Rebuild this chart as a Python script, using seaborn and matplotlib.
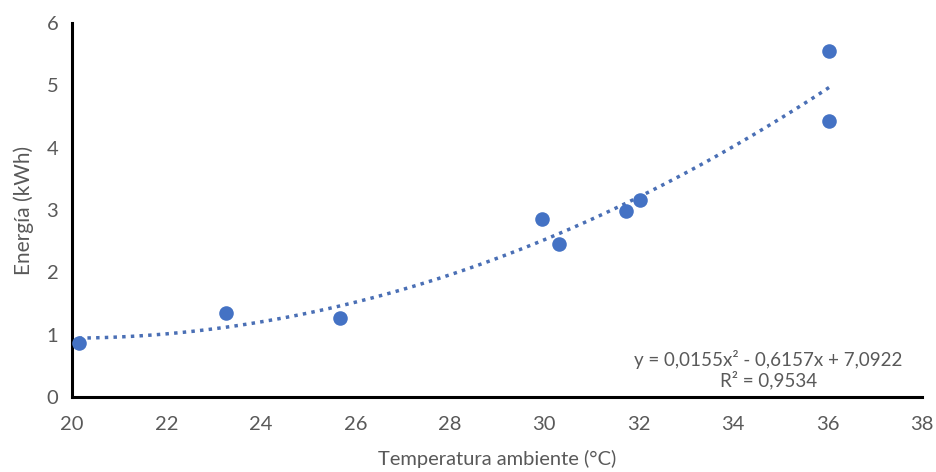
import numpy as np
import pandas as pd
import matplotlib
matplotlib.use("Agg")
import matplotlib.pyplot as plt
import seaborn as sns

####################################################################################
## data
####################################################################################
temperatura = [20.14, 23.26, 25.67, 29.96, 30.32, 31.72, 32.02, 36.04, 36.03]
energia = [0.87, 1.34, 1.26, 2.86, 2.46, 2.99, 3.16, 5.55, 4.43]

ecuacion = "y = 0,0155x² - 0,6157x + 7,0922"
r2_texto = "R² = 0,9534"

x_ticks = [20, 22, 24, 26, 28, 30, 32, 34, 36, 38]
y_ticks = [0, 1, 2, 3, 4, 5, 6]

df = pd.DataFrame({"temp": temperatura, "energia": energia})

####################################################################################
## viz
####################################################################################
sns.set_style("white")
plt.rcParams["font.family"] = ["Lato", "DejaVu Sans"]

gris = "#595959"
azul = "#4472C4"

fig = plt.figure(figsize=(9.37, 4.72), dpi=100)
ax = fig.add_axes([0.077, 0.159, 0.907, 0.792])

# trend line (2nd order polynomial), like excel
sns.regplot(data=df, x="temp", y="energia", order=2, ci=None, scatter=False,
            ax=ax, line_kws={"color": "#4A6FB5", "linestyle": (0, (1, 1.5)),
                             "linewidth": 2.5})
sns.scatterplot(data=df, x="temp", y="energia", ax=ax, color=azul, s=110,
                edgecolor=azul, linewidth=0, zorder=3)

ax.set_xlim(20, 38)
ax.set_ylim(0, 6)
ax.set_xticks(x_ticks)
ax.set_yticks(y_ticks)

for side in ["top", "right"]:
    ax.spines[side].set_visible(False)
for side in ["left", "bottom"]:
    ax.spines[side].set_linewidth(2.2)
    ax.spines[side].set_color("black")

ax.tick_params(axis="both", direction="out", length=5, width=2.2, color="black",
               labelsize=14.5, labelcolor=gris, pad=5)
ax.tick_params(axis="x", pad=9)

ax.set_xlabel("Temperatura ambiente (°C)", fontsize=14.5, color=gris)
ax.set_ylabel("Energía (kWh)", fontsize=15, color=gris)
ax.xaxis.set_label_coords(0.5, -0.143)
ax.yaxis.set_label_coords(-0.045, 0.5)

ax.text(0.819, 0.02, ecuacion + "\n" + r2_texto, transform=ax.transAxes,
        ha="center", va="bottom", fontsize=13.5, color=gris, linespacing=1.15,
        multialignment="center")

plt.savefig("out.png", dpi=100)
